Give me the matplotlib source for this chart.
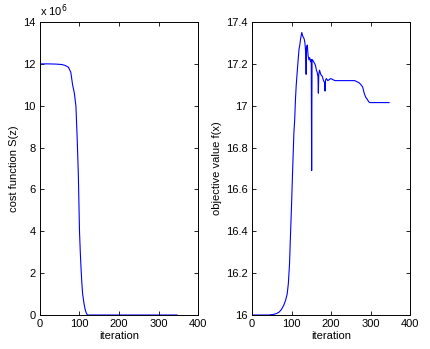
import matplotlib
matplotlib.use("Agg")
import matplotlib.pyplot as plt
import numpy as np

plt.rcParams['font.family'] = ['Liberation Sans', 'DejaVu Sans']
plt.rcParams['font.size'] = 8

# --- data ------------------------------------------------------------------
# cost function S(z), in units of 1e6
cost_iter = [0, 20, 40, 55, 63, 72, 78, 82.5, 87, 91, 94, 97, 100, 102, 103, 104, 106, 108,
             111, 114, 117, 120, 130, 150, 200, 250, 300, 347]
cost_val = [12.0, 12.0, 11.99, 11.97, 11.93, 11.84, 11.6, 11.0, 10.6, 9.97, 8.5, 6.77, 4.0,
            3.0, 2.6, 2.2, 1.5, 1.0, 0.6, 0.29, 0.1, 0.0, 0.0, 0.0, 0.0, 0.0, 0.0, 0.0]

# objective value f(x)
obj_iter = [0, 20, 42, 55, 63, 68, 74, 80, 85, 89, 92, 95, 97, 100, 103, 106, 108, 110, 112,
            114, 116, 119, 121, 123, 126, 129, 132, 134, 136, 137, 138, 140, 142, 144, 146,
            148, 150, 151, 152, 153, 156, 159, 161, 163, 165, 167, 168, 169, 171, 174, 178,
            181, 184, 185, 186, 188, 192, 199, 210, 230, 246, 260, 271, 276, 280, 284, 288,
            292, 295, 298, 305, 320, 347]
obj_val = [16.0, 16.0, 16.0, 16.003, 16.008, 16.013, 16.025, 16.045, 16.07, 16.1, 16.15,
           16.245, 16.36, 16.52, 16.7, 16.87, 16.93, 17.03, 17.1, 17.15, 17.2, 17.27, 17.29,
           17.32, 17.35, 17.33, 17.32, 17.3, 17.25, 17.15, 17.28, 17.29, 17.24, 17.22,
           17.23, 17.21, 17.22, 16.69, 17.22, 17.22, 17.21, 17.2, 17.19, 17.17, 17.16,
           17.14, 17.06, 17.15, 17.17, 17.15, 17.14, 17.12, 17.11, 17.07, 17.12, 17.13,
           17.12, 17.13, 17.12, 17.12, 17.12, 17.12, 17.11, 17.1, 17.09, 17.06, 17.04,
           17.03, 17.02, 17.015, 17.015, 17.015, 17.015]

x_ticks = [0, 100, 200, 300, 400]
cost_ticks = [0, 2, 4, 6, 8, 10, 12, 14]
obj_ticks = [16, 16.2, 16.4, 16.6, 16.8, 17, 17.2, 17.4]
obj_ticklabels = ["16", "16.2", "16.4", "16.6", "16.8", "17", "17.2", "17.4"]

# --- figure ------------------------------------------------------------------
fig = plt.figure(figsize=(4.31, 3.49), dpi=100)
ax0 = fig.add_axes([0.0928, 0.0974, 0.3666, 0.8395])
ax1 = fig.add_axes([0.5847, 0.0974, 0.3666, 0.8395])

for ax in (ax0, ax1):
    ax.tick_params(direction="in", top=True, right=True, length=3, width=0.6,
                   labelsize=8, pad=3)
    for sp in ax.spines.values():
        sp.set_linewidth(0.7)
    ax.set_xlim(0, 400)
    ax.set_xticks(x_ticks)
    ax.set_xlabel("iteration", labelpad=1)

ax0.plot(cost_iter, np.array(cost_val) * 1e6, color="#0000ff", linewidth=0.8)
ax0.set_ylim(0, 14e6)
ax0.set_yticks([t * 1e6 for t in cost_ticks])
ax0.set_yticklabels([str(t) for t in cost_ticks])
ax0.set_ylabel("cost function S(z)", labelpad=3)
ax0.text(0.0, 1.01, r"x 10$^6$", transform=ax0.transAxes, fontsize=8,
         ha="left", va="bottom")

ax1.plot(obj_iter, obj_val, color="#0000ff", linewidth=0.8)
ax1.set_ylim(16, 17.4)
ax1.set_yticks(obj_ticks)
ax1.set_yticklabels(obj_ticklabels)
ax1.set_ylabel("objective value f(x)", labelpad=3)

fig.savefig("out.png", dpi=100)
